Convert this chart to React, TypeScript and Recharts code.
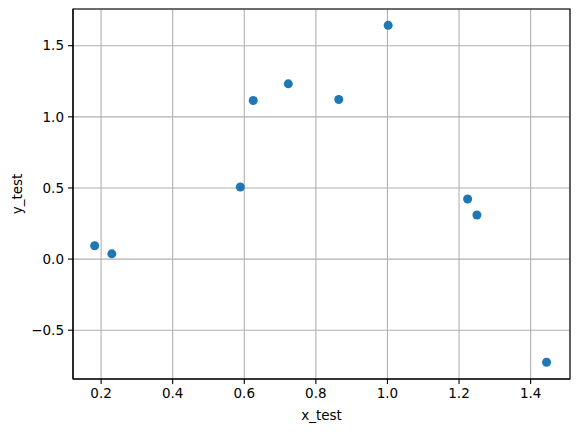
import React from 'react';
import {
  ScatterChart,
  Scatter,
  XAxis,
  YAxis,
  CartesianGrid,
  ReferenceArea,
} from 'recharts';

// values
const xTest = [0.182, 0.23, 0.589, 0.625, 0.723, 0.864, 1.002, 1.224, 1.25, 1.4445];
const yTest = [0.094, 0.037, 0.507, 1.115, 1.232, 1.122, 1.643, 0.4225, 0.31, -0.725];

const xTicks = [0.2, 0.4, 0.6, 0.8, 1.0, 1.2, 1.4];
const yTicks = [-0.5, 0.0, 0.5, 1.0, 1.5];

const xDomain: [number, number] = [0.1215, 1.51];
const yDomain: [number, number] = [-0.843, 1.758];

const points = xTest.map((x, i) => ({ x, y: yTest[i] }));

const FONT = 'DejaVu Sans, sans-serif';
const BLUE = '#1f77b4';

const fmt = (v: number) => v.toFixed(1).replace('-', '\u2212');

const Dot = (props: any) => {
  const { cx, cy } = props;
  if (cx == null || cy == null) return null;
  return <circle cx={cx} cy={cy} r={4.5} fill={BLUE} />;
};

export default function App() {
  return (
    <div style={{ position: 'absolute', left: 0, top: 0, width: 578, height: 432, background: '#fff' }}>
      <ScatterChart
        width={578}
        height={432}
        margin={{ top: 9, right: 8, bottom: 0, left: 0 }}
        style={{ fontFamily: FONT }}
      >
        <CartesianGrid stroke="#b0b0b0" strokeWidth={1.1} />
        <XAxis
          type="number"
          dataKey="x"
          domain={xDomain}
          ticks={xTicks}
          allowDataOverflow
          height={53}
          tickFormatter={fmt}
          tickSize={5}
          tickMargin={4}
          stroke="#000"
          tick={{ fill: '#000', fontSize: 13.5, fontFamily: FONT }}
          tickLine={{ stroke: '#000', strokeWidth: 1.1 }}
          axisLine={{ stroke: '#000', strokeWidth: 1.1 }}
          label={{
            value: 'x_test',
            position: 'insideBottom',
            offset: 12,
            fill: '#000',
            fontSize: 13.5,
            fontFamily: FONT,
          }}
        />
        <YAxis
          type="number"
          dataKey="y"
          domain={yDomain}
          ticks={yTicks}
          allowDataOverflow
          width={73}
          tickFormatter={fmt}
          tickSize={5}
          tickMargin={4}
          stroke="#000"
          tick={{ fill: '#000', fontSize: 13.5, fontFamily: FONT }}
          tickLine={{ stroke: '#000', strokeWidth: 1.1 }}
          axisLine={{ stroke: '#000', strokeWidth: 1.1 }}
          label={{
            value: 'y_test',
            angle: -90,
            position: 'insideLeft',
            offset: 17,
            fill: '#000',
            fontSize: 13.5,
            fontFamily: FONT,
            style: { textAnchor: 'middle' },
          }}
        />
        <Scatter data={points} fill={BLUE} shape={Dot} isAnimationActive={false} />
        <ReferenceArea
          x1={xDomain[0]}
          x2={xDomain[1]}
          y1={yDomain[0]}
          y2={yDomain[1]}
          fill="none"
          stroke="#000"
          strokeWidth={1.1}
          ifOverflow="visible"
        />
      </ScatterChart>
    </div>
  );
}
